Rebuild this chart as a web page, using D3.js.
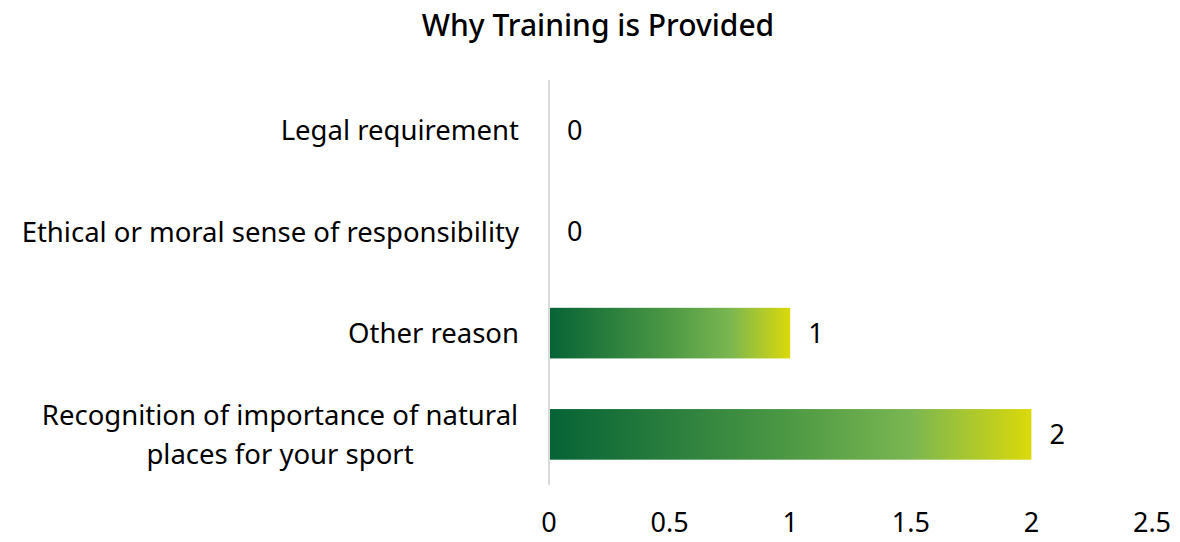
<!DOCTYPE html>
<html>
<head>
<meta charset="utf-8">
<script src="https://cdn.jsdelivr.net/npm/d3@7"></script>
<style>
  body { margin: 0; background: #fff; }
  svg text { font-family: "Noto Sans", sans-serif; fill: #000; }
</style>
</head>
<body>
<svg id="canvas" width="1180" height="542"></svg>
<script>
// chart data
let categories = [
    ['Legal requirement'],
    ['Ethical or moral sense of responsibility'],
    ['Other reason'],
    ['Recognition of importance of natural', 'places for your sport']
]
let values = [0, 0, 1, 2]
let xTicks = [0, 0.5, 1, 1.5, 2, 2.5]
let title = 'Why Training is Provided'

let canvas = d3.select('#canvas')

let xScale = d3.scaleLinear().domain([0, 2.5]).range([549, 1152])
let yScale = d3.scaleBand()
    .domain(categories.map((c, i) => i))
    .range([80, 485])
    .paddingInner(0.5)
    .paddingOuter(0.25)

// gradient for bars
let grad = canvas.append('defs').append('linearGradient')
    .attr('id', 'barGrad')
    .attr('x1', '0%').attr('x2', '100%')
    .attr('y1', '0%').attr('y2', '0%')
grad.append('stop').attr('offset', '0%').attr('stop-color', '#066336')
grad.append('stop').attr('offset', '50%').attr('stop-color', '#4d9944')
grad.append('stop').attr('offset', '75%').attr('stop-color', '#7ab651')
grad.append('stop').attr('offset', '100%').attr('stop-color', '#dbd90a')

canvas.append('text')
    .attr('x', 598)
    .attr('y', 36)
    .attr('text-anchor', 'middle')
    .attr('font-size', 30)
    .attr('font-weight', 500)
    .text(title)

// bars
canvas.selectAll('rect.bar')
    .data(values)
    .enter()
    .append('rect')
    .attr('class', 'bar')
    .attr('x', xScale(0))
    .attr('y', (d, i) => yScale(i))
    .attr('width', d => xScale(d) - xScale(0))
    .attr('height', yScale.bandwidth())
    .attr('fill', 'url(#barGrad)')

// vertical axis line
canvas.append('line')
    .attr('x1', xScale(0)).attr('x2', xScale(0))
    .attr('y1', 80).attr('y2', 485)
    .attr('stroke', '#d9d9d9')
    .attr('stroke-width', 2)

// value labels
canvas.selectAll('text.value')
    .data(values)
    .enter()
    .append('text')
    .attr('class', 'value')
    .attr('x', d => xScale(d) + 18)
    .attr('y', (d, i) => yScale(i) + yScale.bandwidth() / 2)
    .attr('dy', '0.35em')
    .attr('font-size', 27)
    .text(d => d)

// category labels
let catLabels = canvas.selectAll('text.cat')
    .data(categories)
    .enter()
    .append('text')
    .attr('class', 'cat')
    .attr('font-size', 27.5)
    .attr('text-anchor', 'end')
    .attr('y', (d, i) => yScale(i) + yScale.bandwidth() / 2)

catLabels.each(function (lines, i) {
    let t = d3.select(this)
    let cy = yScale(i) + yScale.bandwidth() / 2
    if (lines.length === 1) {
        t.attr('x', 519).attr('dy', '0.35em').text(lines[0])
    } else {
        // wrapped label is centred on its longest line
        t.attr('text-anchor', 'middle').attr('x', 280)
        lines.forEach((l, k) => {
            t.append('tspan')
                .attr('x', 280)
                .attr('y', cy + (k - (lines.length - 1) / 2) * 39)
                .attr('dy', '0.35em')
                .text(l)
        })
    }
})

// x axis tick labels
canvas.selectAll('text.tick')
    .data(xTicks)
    .enter()
    .append('text')
    .attr('class', 'tick')
    .attr('x', d => xScale(d))
    .attr('y', 523)
    .attr('dy', '0.35em')
    .attr('text-anchor', 'middle')
    .attr('font-size', 27)
    .text(d => d)
</script>
</body>
</html>
